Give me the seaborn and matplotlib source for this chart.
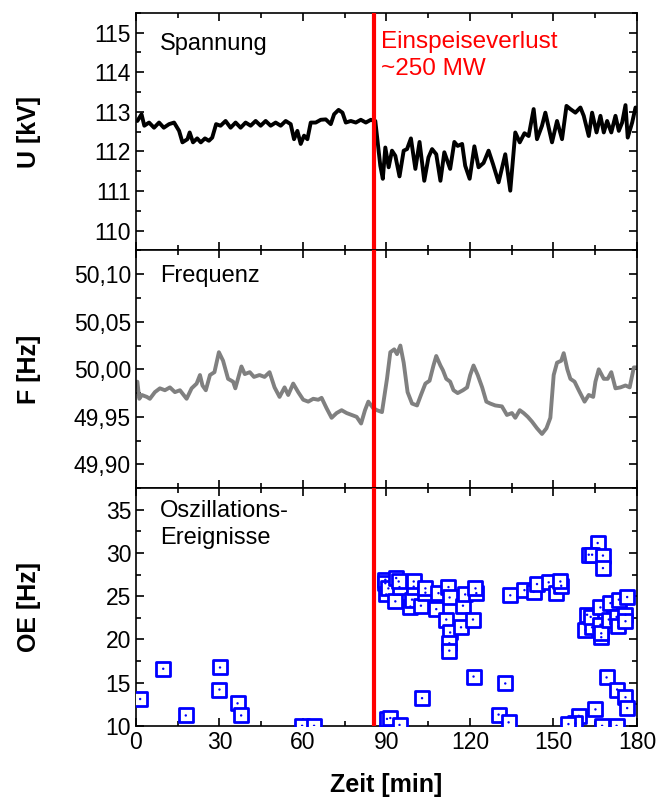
import numpy as np
import pandas as pd
import seaborn as sns
import matplotlib.pyplot as plt
from matplotlib.ticker import MultipleLocator, FuncFormatter

sns.set_style('ticks')
plt.rcParams['font.family'] = ['Liberation Sans', 'DejaVu Sans']
for key in ['text.color', 'axes.labelcolor', 'xtick.color', 'ytick.color', 'axes.edgecolor']:
    plt.rcParams[key] = 'black'

# Spannung (kV) over time (min)
u_time = [0.5, 2.0, 3.0, 4.7, 6.5, 8.3, 10.0, 11.9, 13.7, 15.5, 16.7, 18.5, 19.3, 20.5,
          22.0, 23.3, 24.8, 26.2, 27.4, 28.8, 30.4, 32.2, 34.0, 35.8, 37.6, 39.4, 41.2,
          43.0, 44.8, 46.6, 48.4, 50.2, 52.0, 53.8, 55.6, 56.8, 58.0, 59.2, 60.4, 61.6,
          62.8, 64.6, 66.4, 68.2, 70.0, 71.2, 72.8, 74.2, 75.4, 77.2, 79.0, 80.8, 82.6,
          84.4, 85.6,
          86.0, 87.8, 88.7, 89.6, 90.8, 92.0, 93.2, 94.7, 96.2, 97.4, 98.8, 100.4, 101.9,
          103.6, 105.1, 106.4, 107.9, 109.4, 110.8, 112.9, 114.4, 115.6, 117.2, 118.3,
          119.9, 121.6, 123.1, 124.9, 126.7, 128.3, 130.3, 132.7, 134.5, 136.3, 137.9,
          139.6, 141.1, 142.9, 144.1, 145.9, 147.1, 149.5, 151.3, 153.1, 154.7, 156.1,
          157.9, 159.7, 160.9, 162.7, 163.9, 165.5, 166.9, 168.1, 169.3, 170.8, 172.3,
          173.5, 174.7, 175.9, 176.7, 178.3, 179.5]
u_kv = [112.77, 112.94, 112.65, 112.73, 112.60, 112.73, 112.60, 112.69, 112.73, 112.52,
        112.23, 112.31, 112.48, 112.23, 112.33, 112.23, 112.33, 112.27, 112.35, 112.69,
        112.65, 112.77, 112.60, 112.73, 112.60, 112.73, 112.65, 112.77, 112.65, 112.77,
        112.65, 112.73, 112.65, 112.77, 112.69, 112.31, 112.52, 112.19, 112.40, 112.31,
        112.73, 112.73, 112.80, 112.81, 112.69, 112.94, 113.05, 112.98, 112.73, 112.77,
        112.73, 112.80, 112.73, 112.80, 112.77,
        112.77, 111.64, 111.31, 112.10, 111.60, 112.02, 111.89, 111.37, 112.02, 112.06,
        112.33, 111.56, 112.24, 111.26, 111.85, 112.06, 111.93, 111.26, 111.98, 111.56,
        112.24, 112.14, 112.19, 111.64, 111.31, 112.13, 111.60, 111.71, 112.02, 111.68,
        111.22, 111.93, 111.01, 112.48, 112.23, 112.46, 112.39, 113.07, 112.31, 112.65,
        112.98, 112.23, 112.77, 112.31, 113.15, 113.07, 112.98, 113.11, 112.90, 112.39,
        112.98, 112.48, 112.90, 112.48, 112.77, 112.48, 112.90, 112.52, 112.73, 113.17,
        112.35, 112.73, 113.11]

# Frequenz (Hz)
f_time = [0.5, 1.2, 2.1, 3.9, 5.0, 6.8, 8.6, 10.4, 12.2, 14.0, 15.8, 18.2, 20.0, 21.8,
          23.0, 23.9, 25.1, 26.6, 28.2, 29.8, 31.3, 33.1, 34.9, 35.7, 37.9, 39.1, 40.9,
          42.4, 44.4, 46.2, 48.0, 49.8, 51.6, 53.4, 54.7, 56.5, 58.3, 60.1, 61.9, 63.7,
          65.5, 66.7, 68.5, 70.3, 72.1, 73.9, 75.7, 77.5, 79.3, 80.9, 82.3, 83.5, 85.3,
          86.6, 88.4, 90.2, 91.4, 92.8, 93.8, 95.0, 96.2, 97.6, 99.2, 101.0, 102.4, 104.0,
          105.5, 106.9, 107.9, 109.4, 110.3, 111.5, 112.9, 114.1, 115.6, 117.5, 119.0,
          120.1, 121.3, 122.8, 124.4, 125.9, 127.3, 129.1, 131.5, 133.3, 135.1, 136.3,
          137.9, 139.3, 140.8, 142.3, 144.1, 145.9, 147.5, 148.9, 150.1, 151.3, 152.8,
          153.7, 155.0, 156.1, 157.6, 159.1, 161.2, 162.7, 164.3, 165.1, 166.3, 168.1,
          169.5, 170.8, 172.3, 174.1, 175.9, 177.4, 178.9, 179.9]
f_hz = [49.987, 49.969, 49.973, 49.971, 49.969, 49.976, 49.980, 49.978, 49.981, 49.976,
        49.978, 49.969, 49.980, 49.985, 49.994, 49.983, 49.978, 49.994, 49.997, 50.018,
        50.009, 49.990, 49.987, 49.980, 50.003, 49.995, 49.997, 49.992, 49.994, 49.992,
        49.997, 49.981, 49.971, 49.981, 49.973, 49.985, 49.976, 49.968, 49.966, 49.969,
        49.968, 49.970, 49.959, 49.949, 49.954, 49.957, 49.954, 49.952, 49.950, 49.943,
        49.957, 49.966, 49.959,
        49.957, 49.955, 49.990, 50.018, 50.021, 50.016, 50.025, 50.007, 49.976, 49.964,
        49.962, 49.973, 49.985, 49.988, 50.004, 50.014, 50.004, 49.999, 49.990, 49.987,
        49.978, 49.975, 49.978, 49.981, 49.994, 50.004, 49.994, 49.981, 49.966, 49.964,
        49.962, 49.961, 49.952, 49.954, 49.949, 49.957, 49.954, 49.950, 49.945, 49.938,
        49.932, 49.938, 49.949, 49.994, 50.007, 50.009, 50.017, 50.000, 49.990, 49.987,
        49.978, 49.966, 49.973, 49.971, 49.987, 50.000, 49.990, 49.990, 49.997, 49.980,
        49.981, 49.983, 49.981, 50.002, 50.002]

# Oszillations-Ereignisse (Hz)
oe_time = [1.5, 9.8, 17.9, 30.2, 30.0, 36.5, 37.8, 59.7, 64.0,
           89.6, 89.6, 89.9, 90.7, 93.5, 93.2, 94.7, 94.4, 98.6, 99.2, 99.8, 99.8, 102.4,
           104.0, 104.0, 107.9, 108.7, 111.5, 112.3, 112.7, 112.9, 112.6, 112.6, 117.5,
           116.8, 118.3, 121.1, 122.3, 122.0, 121.3, 102.8, 90.2, 91.4, 94.7,
           134.5, 139.6, 142.9, 144.1, 148.3, 151.1, 152.8, 152.5, 132.7, 130.3, 133.9,
           165.9, 162.7, 163.9, 167.8, 167.8, 162.1, 161.5, 163.9, 163.4, 166.9, 166.9,
           167.2, 167.2, 169.9, 170.5, 172.7, 173.5, 173.3, 176.5, 175.9, 175.9, 169.1,
           172.9, 175.9, 176.5, 165.1, 159.1, 157.9, 155.4, 167.5, 172.7]
oe_hz = [13.1, 16.6, 11.2, 16.75, 14.2, 12.6, 11.2, 10.0, 10.0,
         26.9, 26.5, 25.2, 25.9, 27.1, 24.4, 26.05, 26.7, 23.8, 24.6, 26.1, 26.7, 23.9,
         25.4, 25.9, 23.5, 25.35, 22.3, 26.05, 24.85, 20.8, 19.55, 18.7, 23.9,
         21.4, 25.2, 22.3, 25.35, 25.9, 15.7, 13.2, 10.8, 10.9, 10.1,
         25.1, 25.7, 25.5, 26.4, 26.6, 25.35, 26.2, 26.7, 14.9, 11.3, 10.4,
         31.15, 29.8, 29.8, 29.7, 28.25, 22.85, 21.1, 21.4, 22.6, 23.7, 21.7,
         20.25, 20.7, 22.3, 24.2, 22.6, 24.6, 21.5, 24.9, 22.85, 22.1, 15.6,
         14.2, 13.3, 12.05, 11.9, 11.15, 10.3, 10.2, 10.0, 10.0]

event_time = 85.5

fig, axes = plt.subplots(3, 1, figsize=(6.6, 8.02), dpi=100, sharex=True)
fig.subplots_adjust(left=0.206, right=0.965, top=0.984, bottom=0.095, hspace=0)
ax1, ax2, ax3 = axes

sns.lineplot(x=u_time, y=u_kv, ax=ax1, color='black', linewidth=2.8)
sns.lineplot(x=f_time, y=f_hz, ax=ax2, color='#808080', linewidth=2.8)
sns.scatterplot(x=oe_time, y=oe_hz, ax=ax3, marker='s', s=95, color='white',
                edgecolor='#0000ff', linewidth=2.0, zorder=3)
sns.scatterplot(x=oe_time, y=oe_hz, ax=ax3, marker='o', s=3, color='#0000ff',
                edgecolor='none', zorder=4)

for ax in axes:
    ax.axvline(event_time, color='#ff0000', linewidth=3, zorder=5)
    ax.set_xlim(0, 180)
    ax.xaxis.set_major_locator(MultipleLocator(30))
    ax.xaxis.set_minor_locator(MultipleLocator(15))
    ax.tick_params(which='both', direction='in', top=True, right=True, labelsize=16.5)
    ax.tick_params(which='major', length=6, width=1.2)
    ax.tick_params(which='minor', length=3.5, width=1.2)
    for sp in ax.spines.values():
        sp.set_linewidth(1.2)
    ax.yaxis.set_label_coords(-0.19, 0.5)

ax1.set_ylim(109.5, 115.5)
ax1.yaxis.set_major_locator(MultipleLocator(1))
ax1.yaxis.set_minor_locator(MultipleLocator(0.5))
ax1.set_ylabel('U [kV]', fontsize=18, fontweight='bold')

ax2.set_ylim(49.875, 50.125)
ax2.yaxis.set_major_locator(MultipleLocator(0.05))
ax2.yaxis.set_minor_locator(MultipleLocator(0.025))
ax2.yaxis.set_major_formatter(FuncFormatter(lambda v, p: f'{v:.2f}'.replace('.', ',')))
ax2.set_ylabel('F [Hz]', fontsize=18, fontweight='bold')

ax3.set_ylim(10, 37.5)
ax3.yaxis.set_major_locator(MultipleLocator(5))
ax3.yaxis.set_minor_locator(MultipleLocator(2.5))
ax3.set_ylabel('OE [Hz]', fontsize=18, fontweight='bold')
ax3.set_xlabel('Zeit [min]', fontsize=18, fontweight='bold', labelpad=14)

ax1.text(0.048, 0.915, 'Spannung', transform=ax1.transAxes, fontsize=17, va='top')
ax1.text(0.49, 0.925, 'Einspeiseverlust\n~250 MW', transform=ax1.transAxes,
         fontsize=17.5, va='top', color='#ff0000', linespacing=1.3)
ax2.text(0.048, 0.94, 'Frequenz', transform=ax2.transAxes, fontsize=17, va='top')
ax3.text(0.048, 0.95, 'Oszillations-\nEreignisse', transform=ax3.transAxes,
         fontsize=17, va='top', linespacing=1.3)

plt.savefig('out.png', dpi=100)
